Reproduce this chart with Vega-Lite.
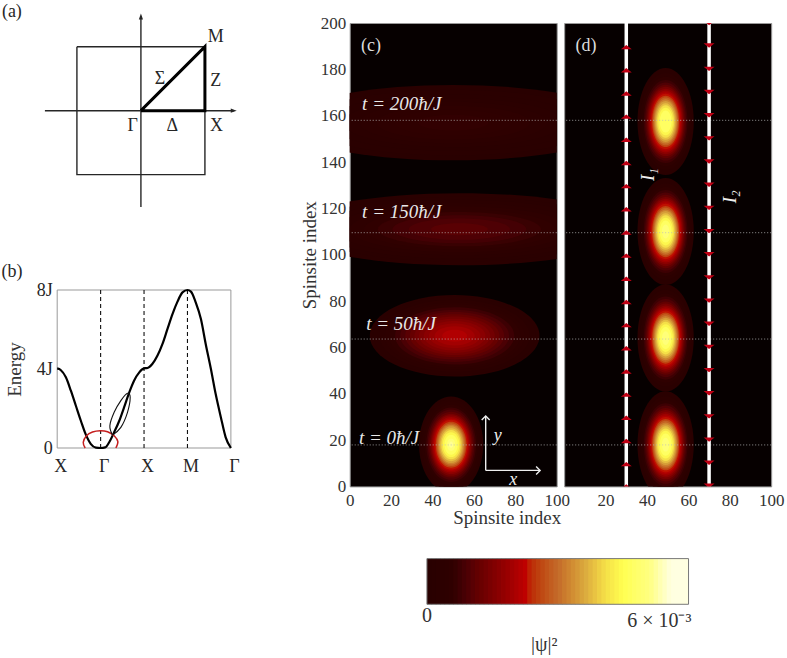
{"$schema":"https://vega.github.io/schema/vega-lite/v6.json","background":"white","padding":{"left":1.2,"top":3,"right":0,"bottom":0},
"config":{"font":"Liberation Serif","view":{"stroke":null},"text":{"font":"Liberation Serif"},"axis":{"labelFont":"Liberation Serif","titleFont":"Liberation Serif","labelColor":"#333","titleColor":"#333","labelFontSize":17,"titleFontSize":19,"titleFontWeight":"normal","tickSize":0,"domain":false,"grid":false,"labelFlush":false,"labelOverlap":false}},
"datasets":{
"blobs":[
{"p":"c","x":50.7,"y":65,"v":0.15,"r":41,"s":"B"},{"p":"c","x":50.7,"y":65,"v":0.22,"r":39.2,"s":"B"},{"p":"c","x":50.7,"y":65,"v":0.33,"r":36.3,"s":"B"},{"p":"c","x":50.7,"y":65,"v":0.45,"r":33.8,"s":"B"},{"p":"c","x":50.7,"y":65,"v":0.57,"r":31.7,"s":"B"},{"p":"c","x":50.7,"y":65,"v":0.75,"r":28.8,"s":"B"},{"p":"c","x":50.7,"y":65,"v":0.9,"r":26.3,"s":"B"},{"p":"c","x":50.7,"y":65,"v":1.05,"r":23.9,"s":"B"},{"p":"c","x":50.7,"y":65,"v":1.2,"r":21.6,"s":"B"},{"p":"c","x":50.7,"y":65,"v":1.35,"r":19.4,"s":"B"},{"p":"c","x":50.7,"y":65,"v":1.5,"r":17.2,"s":"B"},{"p":"c","x":50.7,"y":65,"v":1.65,"r":14.9,"s":"B"},{"p":"c","x":50.7,"y":65,"v":1.8,"r":12.4,"s":"B"},{"p":"c","x":50.7,"y":65,"v":1.95,"r":9.7,"s":"B"},{"p":"c","x":50.7,"y":65,"v":2.1,"r":6,"s":"B"},
{"p":"c","x":53,"y":111,"v":0.14,"r":83,"s":"C"},{"p":"c","x":53,"y":111,"v":0.2,"r":74.4,"s":"C"},{"p":"c","x":53,"y":111,"v":0.28,"r":68,"s":"C"},{"p":"c","x":53,"y":111,"v":0.38,"r":60.1,"s":"C"},{"p":"c","x":53,"y":111,"v":0.48,"r":53,"s":"C"},{"p":"c","x":53,"y":111,"v":0.58,"r":46.1,"s":"C"},{"p":"c","x":53,"y":111,"v":0.7,"r":39.4,"s":"C"},{"p":"c","x":53,"y":111,"v":0.82,"r":32.3,"s":"C"},{"p":"c","x":53,"y":111,"v":0.93,"r":24.4,"s":"C"},{"p":"c","x":53,"y":111,"v":1.05,"r":13.7,"s":"C"},
{"p":"c","x":50,"y":157,"v":0.1,"r":82,"s":"D"},{"p":"c","x":50,"y":157,"v":0.16,"r":71.5,"s":"D"},{"p":"c","x":50,"y":157,"v":0.22,"r":61.8,"s":"D"},{"p":"c","x":50,"y":157,"v":0.3,"r":53.3,"s":"D"},{"p":"c","x":50,"y":157,"v":0.38,"r":45.2,"s":"D"},{"p":"c","x":50,"y":157,"v":0.46,"r":37,"s":"D"},{"p":"c","x":50,"y":157,"v":0.55,"r":28.2,"s":"D"},{"p":"c","x":50,"y":157,"v":0.63,"r":17,"s":"D"},
{"p":"c","x":49,"y":18,"v":0.2,"r":15.5,"s":"A"},{"p":"c","x":49,"y":18,"v":0.28,"r":14.7,"s":"A"},{"p":"c","x":49,"y":18,"v":0.35,"r":14,"s":"A"},{"p":"c","x":49,"y":18,"v":0.55,"r":12.9,"s":"A"},{"p":"c","x":49,"y":18,"v":0.75,"r":12,"s":"A"},{"p":"c","x":49,"y":18,"v":0.95,"r":11.3,"s":"A"},{"p":"c","x":49,"y":18,"v":1.15,"r":10.6,"s":"A"},{"p":"c","x":49,"y":18,"v":1.4,"r":10,"s":"A"},{"p":"c","x":49,"y":18,"v":1.65,"r":9.46,"s":"A"},{"p":"c","x":49,"y":18,"v":1.9,"r":8.94,"s":"A"},{"p":"c","x":49,"y":18,"v":2.1,"r":8.45,"s":"A"},{"p":"c","x":49,"y":18,"v":2.3,"r":8,"s":"A"},{"p":"c","x":49,"y":18,"v":2.6,"r":7.4,"s":"A"},{"p":"c","x":49,"y":18,"v":2.9,"r":6.9,"s":"A"},{"p":"c","x":49,"y":18,"v":3.2,"r":6.4,"s":"A"},{"p":"c","x":49,"y":18,"v":3.5,"r":5.9,"s":"A"},{"p":"c","x":49,"y":18,"v":3.8,"r":5.3,"s":"A"},{"p":"c","x":49,"y":18,"v":4.1,"r":4.7,"s":"A"},{"p":"c","x":49,"y":18,"v":4.4,"r":4,"s":"A"},{"p":"c","x":49,"y":18,"v":4.7,"r":3.2,"s":"A"},{"p":"c","x":49,"y":18,"v":5,"r":2,"s":"A"},{"p":"c","x":49,"y":18,"v":5.2,"r":1,"s":"A"},
{"p":"d","x":49,"y":18,"v":0.2,"r":13.6,"s":"E"},{"p":"d","x":49,"y":18,"v":0.35,"r":12.3,"s":"E"},{"p":"d","x":49,"y":18,"v":0.55,"r":11.35,"s":"E"},{"p":"d","x":49,"y":18,"v":0.75,"r":10.56,"s":"E"},{"p":"d","x":49,"y":18,"v":0.95,"r":9.94,"s":"E"},{"p":"d","x":49,"y":18,"v":1.15,"r":9.33,"s":"E"},{"p":"d","x":49,"y":18,"v":1.4,"r":8.8,"s":"E"},{"p":"d","x":49,"y":18,"v":1.65,"r":8.32,"s":"E"},{"p":"d","x":49,"y":18,"v":1.9,"r":7.87,"s":"E"},{"p":"d","x":49,"y":18,"v":2.1,"r":7.44,"s":"E"},{"p":"d","x":49,"y":18,"v":2.3,"r":7.04,"s":"E"},{"p":"d","x":49,"y":18,"v":2.6,"r":6.51,"s":"E"},{"p":"d","x":49,"y":18,"v":2.9,"r":6.07,"s":"E"},{"p":"d","x":49,"y":18,"v":3.2,"r":5.63,"s":"E"},{"p":"d","x":49,"y":18,"v":3.5,"r":5.19,"s":"E"},{"p":"d","x":49,"y":18,"v":3.8,"r":4.66,"s":"E"},{"p":"d","x":49,"y":18,"v":4.1,"r":4.14,"s":"E"},{"p":"d","x":49,"y":18,"v":4.4,"r":3.52,"s":"E"},{"p":"d","x":49,"y":18,"v":4.7,"r":2.82,"s":"E"},{"p":"d","x":49,"y":18,"v":5,"r":1.76,"s":"E"},
{"p":"d","x":49,"y":64,"v":0.2,"r":13.6,"s":"E"},{"p":"d","x":49,"y":64,"v":0.35,"r":12.3,"s":"E"},{"p":"d","x":49,"y":64,"v":0.55,"r":11.35,"s":"E"},{"p":"d","x":49,"y":64,"v":0.75,"r":10.56,"s":"E"},{"p":"d","x":49,"y":64,"v":0.95,"r":9.94,"s":"E"},{"p":"d","x":49,"y":64,"v":1.15,"r":9.33,"s":"E"},{"p":"d","x":49,"y":64,"v":1.4,"r":8.8,"s":"E"},{"p":"d","x":49,"y":64,"v":1.65,"r":8.32,"s":"E"},{"p":"d","x":49,"y":64,"v":1.9,"r":7.87,"s":"E"},{"p":"d","x":49,"y":64,"v":2.1,"r":7.44,"s":"E"},{"p":"d","x":49,"y":64,"v":2.3,"r":7.04,"s":"E"},{"p":"d","x":49,"y":64,"v":2.6,"r":6.51,"s":"E"},{"p":"d","x":49,"y":64,"v":2.9,"r":6.07,"s":"E"},{"p":"d","x":49,"y":64,"v":3.2,"r":5.63,"s":"E"},{"p":"d","x":49,"y":64,"v":3.5,"r":5.19,"s":"E"},{"p":"d","x":49,"y":64,"v":3.8,"r":4.66,"s":"E"},{"p":"d","x":49,"y":64,"v":4.1,"r":4.14,"s":"E"},{"p":"d","x":49,"y":64,"v":4.4,"r":3.52,"s":"E"},{"p":"d","x":49,"y":64,"v":4.7,"r":2.82,"s":"E"},{"p":"d","x":49,"y":64,"v":5,"r":1.76,"s":"E"},
{"p":"d","x":49,"y":110,"v":0.2,"r":13.6,"s":"E"},{"p":"d","x":49,"y":110,"v":0.35,"r":12.3,"s":"E"},{"p":"d","x":49,"y":110,"v":0.55,"r":11.35,"s":"E"},{"p":"d","x":49,"y":110,"v":0.75,"r":10.56,"s":"E"},{"p":"d","x":49,"y":110,"v":0.95,"r":9.94,"s":"E"},{"p":"d","x":49,"y":110,"v":1.15,"r":9.33,"s":"E"},{"p":"d","x":49,"y":110,"v":1.4,"r":8.8,"s":"E"},{"p":"d","x":49,"y":110,"v":1.65,"r":8.32,"s":"E"},{"p":"d","x":49,"y":110,"v":1.9,"r":7.87,"s":"E"},{"p":"d","x":49,"y":110,"v":2.1,"r":7.44,"s":"E"},{"p":"d","x":49,"y":110,"v":2.3,"r":7.04,"s":"E"},{"p":"d","x":49,"y":110,"v":2.6,"r":6.51,"s":"E"},{"p":"d","x":49,"y":110,"v":2.9,"r":6.07,"s":"E"},{"p":"d","x":49,"y":110,"v":3.2,"r":5.63,"s":"E"},{"p":"d","x":49,"y":110,"v":3.5,"r":5.19,"s":"E"},{"p":"d","x":49,"y":110,"v":3.8,"r":4.66,"s":"E"},{"p":"d","x":49,"y":110,"v":4.1,"r":4.14,"s":"E"},{"p":"d","x":49,"y":110,"v":4.4,"r":3.52,"s":"E"},{"p":"d","x":49,"y":110,"v":4.7,"r":2.82,"s":"E"},{"p":"d","x":49,"y":110,"v":5,"r":1.76,"s":"E"},
{"p":"d","x":49,"y":157.5,"v":0.2,"r":13.6,"s":"E"},{"p":"d","x":49,"y":157.5,"v":0.35,"r":12.3,"s":"E"},{"p":"d","x":49,"y":157.5,"v":0.55,"r":11.35,"s":"E"},{"p":"d","x":49,"y":157.5,"v":0.75,"r":10.56,"s":"E"},{"p":"d","x":49,"y":157.5,"v":0.95,"r":9.94,"s":"E"},{"p":"d","x":49,"y":157.5,"v":1.15,"r":9.33,"s":"E"},{"p":"d","x":49,"y":157.5,"v":1.4,"r":8.8,"s":"E"},{"p":"d","x":49,"y":157.5,"v":1.65,"r":8.32,"s":"E"},{"p":"d","x":49,"y":157.5,"v":1.9,"r":7.87,"s":"E"},{"p":"d","x":49,"y":157.5,"v":2.1,"r":7.44,"s":"E"},{"p":"d","x":49,"y":157.5,"v":2.3,"r":7.04,"s":"E"},{"p":"d","x":49,"y":157.5,"v":2.6,"r":6.51,"s":"E"},{"p":"d","x":49,"y":157.5,"v":2.9,"r":6.07,"s":"E"},{"p":"d","x":49,"y":157.5,"v":3.2,"r":5.63,"s":"E"},{"p":"d","x":49,"y":157.5,"v":3.5,"r":5.19,"s":"E"},{"p":"d","x":49,"y":157.5,"v":3.8,"r":4.66,"s":"E"},{"p":"d","x":49,"y":157.5,"v":4.1,"r":4.14,"s":"E"},{"p":"d","x":49,"y":157.5,"v":4.4,"r":3.52,"s":"E"},{"p":"d","x":49,"y":157.5,"v":4.7,"r":2.82,"s":"E"}
],
"times":[{"y":17.9},{"y":63.6},{"y":109.5},{"y":158}],
"up":[{"x":30,"y":0},{"x":30,"y":9.6},{"x":30,"y":19.6},{"x":30,"y":29.6},{"x":30,"y":39.6},{"x":30,"y":49.6},{"x":30,"y":59.6},{"x":30,"y":69.6},{"x":30,"y":79.6},{"x":30,"y":89.6},{"x":30,"y":99.6},{"x":30,"y":109.6},{"x":30,"y":119.6},{"x":30,"y":129.6},{"x":30,"y":139.6},{"x":30,"y":149.6},{"x":30,"y":159.6},{"x":30,"y":169.6},{"x":30,"y":179.6},{"x":30,"y":189.6}],
"down":[{"x":70,"y":0.3},{"x":70,"y":10.2},{"x":70,"y":20.2},{"x":70,"y":30.2},{"x":70,"y":40.2},{"x":70,"y":50.2},{"x":70,"y":60.2},{"x":70,"y":70.2},{"x":70,"y":80.2},{"x":70,"y":90.2},{"x":70,"y":100.2},{"x":70,"y":110.2},{"x":70,"y":120.2},{"x":70,"y":130.2},{"x":70,"y":140.2},{"x":70,"y":150.2},{"x":70,"y":160.2},{"x":70,"y":170.2},{"x":70,"y":180.2},{"x":70,"y":190.3},{"x":70,"y":200}],
"cellbar":[{"v":0.05,"a":0,"e":0.12},{"v":0.15,"a":0.1,"e":0.22},{"v":0.25,"a":0.2,"e":0.32},{"v":0.35,"a":0.3,"e":0.42},{"v":0.45,"a":0.4,"e":0.52},{"v":0.55,"a":0.5,"e":0.62},{"v":0.65,"a":0.6,"e":0.72},{"v":0.75,"a":0.7,"e":0.82},{"v":0.85,"a":0.8,"e":0.92},{"v":0.95,"a":0.9,"e":1.02},{"v":1.05,"a":1,"e":1.12},{"v":1.15,"a":1.1,"e":1.22},{"v":1.25,"a":1.2,"e":1.32},{"v":1.35,"a":1.3,"e":1.42},{"v":1.45,"a":1.4,"e":1.52},{"v":1.55,"a":1.5,"e":1.62},{"v":1.65,"a":1.6,"e":1.72},{"v":1.75,"a":1.7,"e":1.82},{"v":1.85,"a":1.8,"e":1.92},{"v":1.95,"a":1.9,"e":2.02},{"v":2.05,"a":2,"e":2.12},{"v":2.15,"a":2.1,"e":2.22},{"v":2.25,"a":2.2,"e":2.32},{"v":2.35,"a":2.3,"e":2.42},{"v":2.45,"a":2.4,"e":2.52},{"v":2.55,"a":2.5,"e":2.62},{"v":2.65,"a":2.6,"e":2.72},{"v":2.75,"a":2.7,"e":2.82},{"v":2.85,"a":2.8,"e":2.92},{"v":2.95,"a":2.9,"e":3.02},{"v":3.05,"a":3,"e":3.12},{"v":3.15,"a":3.1,"e":3.22},{"v":3.25,"a":3.2,"e":3.32},{"v":3.35,"a":3.3,"e":3.42},{"v":3.45,"a":3.4,"e":3.52},{"v":3.55,"a":3.5,"e":3.62},{"v":3.65,"a":3.6,"e":3.72},{"v":3.75,"a":3.7,"e":3.82},{"v":3.85,"a":3.8,"e":3.92},{"v":3.95,"a":3.9,"e":4.02},{"v":4.05,"a":4,"e":4.12},{"v":4.15,"a":4.1,"e":4.22},{"v":4.25,"a":4.2,"e":4.32},{"v":4.35,"a":4.3,"e":4.42},{"v":4.45,"a":4.4,"e":4.52},{"v":4.55,"a":4.5,"e":4.62},{"v":4.65,"a":4.6,"e":4.72},{"v":4.75,"a":4.7,"e":4.82},{"v":4.85,"a":4.8,"e":4.92},{"v":4.95,"a":4.9,"e":5.02},{"v":5.05,"a":5,"e":5.12},{"v":5.15,"a":5.1,"e":5.22},{"v":5.25,"a":5.2,"e":5.32},{"v":5.35,"a":5.3,"e":5.42},{"v":5.45,"a":5.4,"e":5.52},{"v":5.55,"a":5.5,"e":5.62},{"v":5.65,"a":5.6,"e":5.72},{"v":5.75,"a":5.7,"e":5.82},{"v":5.85,"a":5.8,"e":5.92},{"v":5.95,"a":5.9,"e":6}]
},
"columns":3,"align":"none","bounds":"flush","spacing":{"row":71.6,"column":7.5},
"concat":[
{"width":284.5,"height":463.4,
"resolve":{"scale":{"x":"independent","y":"independent"},"axis":{"x":"independent","y":"independent"}},
"layer":[
{"layer":[
{"data":{"values":[{"g":"top","x":-1,"y":1,"o":0},{"g":"top","x":1,"y":1,"o":1},{"g":"top","x":1,"y":-1,"o":2},{"g":"top","x":-1,"y":-1,"o":3},{"g":"top","x":-1,"y":1,"o":4},{"g":"h","x":-1.5,"y":0,"o":0},{"g":"h","x":1.45,"y":0,"o":1},{"g":"v","x":0,"y":-1.505,"o":0},{"g":"v","x":0,"y":1.47,"o":1}]},
"mark":{"type":"line","color":"#262626","strokeWidth":1.4,"clip":false},
"encoding":{"x":{"field":"x","type":"quantitative","axis":null,"scale":{"domain":[-1.308,3.137],"nice":false,"zero":false}},"y":{"field":"y","type":"quantitative","axis":null,"scale":{"domain":[-5.871,1.37],"nice":false,"zero":false}},"detail":{"field":"g"},"order":{"field":"o"}}},
{"data":{"values":[{"x":0,"y":0,"o":0},{"x":1,"y":1,"o":1},{"x":1,"y":0,"o":2},{"x":0,"y":0,"o":3}]},
"mark":{"type":"line","color":"#000","strokeWidth":3,"strokeJoin":"miter"},
"encoding":{"x":{"field":"x","type":"quantitative"},"y":{"field":"y","type":"quantitative"},"order":{"field":"o"}}},
{"data":{"values":[{"x":0,"y":1.47}]},"mark":{"type":"point","filled":true,"opacity":1,"color":"#262626","size":36,"shape":"M-0.7,1L0,-1L0.7,1Z"},"encoding":{"x":{"field":"x","type":"quantitative"},"y":{"field":"y","type":"quantitative"}}},
{"data":{"values":[{"x":1.45,"y":0}]},"mark":{"type":"point","filled":true,"opacity":1,"color":"#262626","size":36,"shape":"M-1,-0.7L1,0L-1,0.7Z"},"encoding":{"x":{"field":"x","type":"quantitative"},"y":{"field":"y","type":"quantitative"}}},
{"data":{"values":[{"x":1.17,"y":1.155,"t":"M"},{"x":0.297,"y":0.495,"t":"Σ"},{"x":1.17,"y":0.47,"t":"Z"},{"x":-0.13,"y":-0.24,"t":"Γ"},{"x":0.49,"y":-0.24,"t":"Δ"},{"x":1.18,"y":-0.24,"t":"X"},{"x":-2.016,"y":1.54,"t":"(a)"}]},
"mark":{"type":"text","fontSize":18,"color":"#262626","clip":false},
"encoding":{"x":{"field":"x","type":"quantitative"},"y":{"field":"y","type":"quantitative"},"text":{"field":"t"}}}
]},
{"layer":[
{"data":{"values":[{"x":0,"x2":4,"e":0,"e2":8}]},"mark":{"type":"rect","fill":null,"stroke":"#999","strokeWidth":1},
"encoding":{"x":{"field":"x","type":"quantitative","scale":{"domain":[0,6.552],"nice":false},"axis":{"orient":"bottom","offset":-38.4,"values":[0,1,2,3,4],"labelExpr":"['X','Γ','X','M','Γ'][datum.value]","title":null,"labelFontSize":18,"labelOffset":3,"labelPadding":10,"labelColor":"#262626"}},"x2":{"field":"x2"},
"y":{"field":"e","type":"quantitative","scale":{"domain":[-1.944,21.52],"nice":false,"zero":false},"axis":{"orient":"left","values":[0,4,8],"labelExpr":"datum.value==0?'0':datum.value+'J'","title":"Energy","titleX":-33,"titleY":346,"labelFontSize":18,"labelPadding":5,"titleFontSize":19,"labelColor":"#262626"}},"y2":{"field":"e2"}}},
{"data":{"values":[{"x":1,"e":0,"e2":8},{"x":2,"e":0,"e2":8},{"x":3,"e":0,"e2":8}]},"mark":{"type":"rule","color":"#111","strokeWidth":1.1,"strokeDash":[4,3]},
"encoding":{"x":{"field":"x","type":"quantitative"},"y":{"field":"e","type":"quantitative"},"y2":{"field":"e2"}}},
{"data":{"values":[{"x":0,"e":4.03},{"x":0.08,"e":3.95},{"x":0.2,"e":3.58},{"x":0.315,"e":2.9},{"x":0.43,"e":2.14},{"x":0.545,"e":1.38},{"x":0.66,"e":0.675},{"x":0.776,"e":0.2},{"x":0.89,"e":0.02},{"x":1,"e":0},{"x":1.105,"e":0.03},{"x":1.197,"e":0.29},{"x":1.31,"e":0.79},{"x":1.43,"e":1.38},{"x":1.54,"e":2.06},{"x":1.66,"e":2.82},{"x":1.77,"e":3.41},{"x":1.89,"e":3.83},{"x":2,"e":4.03},{"x":2.08,"e":4.05},{"x":2.19,"e":4.25},{"x":2.31,"e":4.68},{"x":2.425,"e":5.27},{"x":2.54,"e":6.03},{"x":2.655,"e":6.78},{"x":2.77,"e":7.41},{"x":2.885,"e":7.88},{"x":3,"e":8},{"x":3.08,"e":7.92},{"x":3.19,"e":7.38},{"x":3.31,"e":6.53},{"x":3.42,"e":5.27},{"x":3.54,"e":4},{"x":3.65,"e":2.73},{"x":3.77,"e":1.55},{"x":3.88,"e":0.54},{"x":4,"e":0}]},
"mark":{"type":"line","color":"#000","strokeWidth":2.2,"interpolate":"monotone"},
"encoding":{"x":{"field":"x","type":"quantitative"},"y":{"field":"e","type":"quantitative"}}},
{"data":{"values":[{"x":0.645,"e":0,"o":0},{"x":0.6,"e":0.287,"o":1},{"x":0.675,"e":0.624,"o":2},{"x":0.813,"e":0.81,"o":3},{"x":0.99,"e":0.878,"o":4},{"x":1.159,"e":0.827,"o":5},{"x":1.312,"e":0.624,"o":6},{"x":1.397,"e":0.32,"o":7},{"x":1.351,"e":0,"o":8}]},
"mark":{"type":"line","color":"#c41e1e","strokeWidth":1.5,"interpolate":"cardinal"},
"encoding":{"x":{"field":"x","type":"quantitative"},"y":{"field":"e","type":"quantitative"},"order":{"field":"o"}}},
{"data":{"values":[{"x":1.274,"e":0.658,"o":0},{"x":1.213,"e":1.13,"o":1},{"x":1.312,"e":1.806,"o":2},{"x":1.466,"e":2.397,"o":3},{"x":1.619,"e":2.768,"o":4},{"x":1.681,"e":2.565,"o":5},{"x":1.619,"e":1.806,"o":6},{"x":1.466,"e":1.046,"o":7},{"x":1.274,"e":0.658,"o":8}]},
"mark":{"type":"line","color":"#111","strokeWidth":1.1,"interpolate":"cardinal"},
"encoding":{"x":{"field":"x","type":"quantitative"},"y":{"field":"e","type":"quantitative"},"order":{"field":"o"}}},
{"data":{"values":[{"x":-1.04,"e":8.9,"t":"(b)"}]},"mark":{"type":"text","fontSize":18,"color":"#262626","clip":false},
"encoding":{"x":{"field":"x","type":"quantitative"},"y":{"field":"e","type":"quantitative"},"text":{"field":"t"}}}
]}
]},
{"width":207,"height":463.4,"view":{"stroke":"#999","fill":"#060000"},
"layer":[
{"data":{"name":"blobs"},"transform":[{"filter":"datum.p=='c'"}],
"mark":{"type":"point","filled":true,"opacity":1,"strokeWidth":0,"clip":true},
"encoding":{"x":{"field":"x","type":"quantitative","scale":{"domain":[0,100],"nice":false},"axis":{"values":[0,20,40,60,80,100],"title":"Spinsite index","titleX":157,"titlePadding":0,"labelPadding":6}},
"y":{"field":"y","type":"quantitative","scale":{"domain":[0,200],"nice":false},"axis":{"values":[0,20,40,60,80,100,120,140,160,180,200],"title":"Spinsite index","titlePadding":1,"labelPadding":4}},
"size":{"field":"r","type":"quantitative","legend":null,"scale":{"type":"pow","exponent":2,"domain":[0,100],"range":[0,171396]}},
"shape":{"field":"s","type":"nominal","legend":null,"scale":{"domain":["A","B","C","D","E"],"range":["M-1,0A1,1.5,0,1,0,1,0A1,1.5,0,1,0,-1,0Z","M-1,0A1,0.48,0,1,0,1,0A1,0.48,0,1,0,-1,0Z","M-1,0A1,0.21,0,1,0,1,0A1,0.21,0,1,0,-1,0Z","M-1,0A1,0.222,0,1,0,1,0A1,0.222,0,1,0,-1,0Z","M-1,0A1,1.9,0,1,0,1,0A1,1.9,0,1,0,-1,0Z"]}},
"color":{"field":"v","type":"quantitative","legend":null,"scale":{"domain":[0,0.6,1.2,1.8,2.27,2.4,3,3.6,4.1,4.5,5.1,5.6,6],"range":["#000000","#300000","#660000","#960000","#c00000","#bc2c08","#c46a2a","#d9a83e","#f5e048","#ffff50","#ffff80","#ffffe0","#ffffff"]}},
"order":{"field":"v"}}},
{"data":{"name":"times"},"mark":{"type":"rule","color":"#bbb","strokeWidth":0.8,"strokeDash":[1,2]},"encoding":{"y":{"field":"y","type":"quantitative"}}},
{"data":{"values":[{"x":6,"y":165,"t":"t = 200ħ/J"},{"x":6,"y":118.5,"t":"t = 150ħ/J"},{"x":8,"y":70,"t":"t = 50ħ/J"},{"x":4.5,"y":21,"t":"t = 0ħ/J"}]},"mark":{"type":"text","align":"left","fontSize":19,"fontStyle":"italic","color":"#e8e8e8"},"encoding":{"x":{"field":"x","type":"quantitative"},"y":{"field":"y","type":"quantitative"},"text":{"field":"t"}}},
{"data":{"values":[{"x":5.5,"y":190,"t":"(c)"}]},"mark":{"type":"text","align":"left","fontSize":18,"color":"#ddd"},"encoding":{"x":{"field":"x","type":"quantitative"},"y":{"field":"y","type":"quantitative"},"text":{"field":"t"}}},
{"data":{"values":[{"g":"a","x":65.7,"y":6.9,"o":0},{"g":"a","x":65.7,"y":30.4,"o":1},{"g":"b","x":65.7,"y":6.9,"o":0},{"g":"b","x":92,"y":6.9,"o":1}]},"mark":{"type":"line","color":"#eee","strokeWidth":1.4},"encoding":{"x":{"field":"x","type":"quantitative"},"y":{"field":"y","type":"quantitative"},"detail":{"field":"g"},"order":{"field":"o"}}},
{"data":{"values":[{"x":65.7,"y":30.4}]},"mark":{"type":"point","filled":false,"opacity":1,"color":"#eee","strokeWidth":1.4,"size":64,"shape":"M-1,1L0,0L1,1"},"encoding":{"x":{"field":"x","type":"quantitative"},"y":{"field":"y","type":"quantitative"}}},
{"data":{"values":[{"x":92,"y":6.9}]},"mark":{"type":"point","filled":false,"opacity":1,"color":"#eee","strokeWidth":1.4,"size":64,"shape":"M-1,-1L0,0L-1,1"},"encoding":{"x":{"field":"x","type":"quantitative"},"y":{"field":"y","type":"quantitative"}}},
{"data":{"values":[{"x":79,"y":2.6,"t":"x"},{"x":71.5,"y":21.9,"t":"y"}]},"mark":{"type":"text","fontSize":18,"fontStyle":"italic","color":"#eee"},"encoding":{"x":{"field":"x","type":"quantitative"},"y":{"field":"y","type":"quantitative"},"text":{"field":"t"}}}
]},
{"width":207,"height":463.4,"view":{"stroke":"#999","fill":"#060000"},
"layer":[
{"data":{"name":"blobs"},"transform":[{"filter":"datum.p=='d'"}],
"mark":{"type":"point","filled":true,"opacity":1,"strokeWidth":0,"clip":true},
"encoding":{"x":{"field":"x","type":"quantitative","scale":{"domain":[0,100],"nice":false},"axis":{"values":[20,40,60,80,100],"title":null,"labelPadding":6}},
"y":{"field":"y","type":"quantitative","scale":{"domain":[0,200],"nice":false},"axis":null},
"size":{"field":"r","type":"quantitative","legend":null,"scale":{"type":"pow","exponent":2,"domain":[0,100],"range":[0,171396]}},
"shape":{"field":"s","type":"nominal","legend":null,"scale":{"domain":["A","B","C","D","E"],"range":["M-1,0A1,1.5,0,1,0,1,0A1,1.5,0,1,0,-1,0Z","M-1,0A1,0.48,0,1,0,1,0A1,0.48,0,1,0,-1,0Z","M-1,0A1,0.21,0,1,0,1,0A1,0.21,0,1,0,-1,0Z","M-1,0A1,0.222,0,1,0,1,0A1,0.222,0,1,0,-1,0Z","M-1,0A1,1.9,0,1,0,1,0A1,1.9,0,1,0,-1,0Z"]}},
"color":{"field":"v","type":"quantitative","legend":null,"scale":{"domain":[0,0.6,1.2,1.8,2.27,2.4,3,3.6,4.1,4.5,5.1,5.6,6],"range":["#000000","#300000","#660000","#960000","#c00000","#bc2c08","#c46a2a","#d9a83e","#f5e048","#ffff50","#ffff80","#ffffe0","#ffffff"]}},
"order":{"field":"v"}}},
{"data":{"name":"times"},"mark":{"type":"rule","color":"#bbb","strokeWidth":0.8,"strokeDash":[1,2]},"encoding":{"y":{"field":"y","type":"quantitative"}}},
{"data":{"values":[{"x":30},{"x":70}]},"mark":{"type":"rule","color":"#fff","strokeWidth":3.5},"encoding":{"x":{"field":"x","type":"quantitative"}}},
{"data":{"name":"up"},"mark":{"type":"point","filled":true,"opacity":1,"color":"#c00014","size":120,"shape":"M-1,0.4L1,0.4L0,-0.4Z","clip":true},"encoding":{"x":{"field":"x","type":"quantitative"},"y":{"field":"y","type":"quantitative"}}},
{"data":{"name":"down"},"mark":{"type":"point","filled":true,"opacity":1,"color":"#c00014","size":120,"shape":"M-1,-0.4L1,-0.4L0,0.4Z","clip":true},"encoding":{"x":{"field":"x","type":"quantitative"},"y":{"field":"y","type":"quantitative"}}},
{"data":{"values":[{"x":5.5,"y":190,"t":"(d)"}]},"mark":{"type":"text","align":"left","fontSize":18,"color":"#ddd"},"encoding":{"x":{"field":"x","type":"quantitative"},"y":{"field":"y","type":"quantitative"},"text":{"field":"t"}}},
{"data":{"values":[{"x":40.3,"y":134.6,"t":"I₁"},{"x":80,"y":125,"t":"I₂"}]},"mark":{"type":"text","angle":270,"fontSize":19,"fontStyle":"italic","color":"#eee"},"encoding":{"x":{"field":"x","type":"quantitative"},"y":{"field":"y","type":"quantitative"},"text":{"field":"t"}}}
]},
{"width":284.5,"height":45.7,
"layer":[
{"data":{"name":"cellbar"},"mark":{"type":"rect"},
"encoding":{"x":{"field":"a","type":"quantitative","axis":null,"scale":{"domain":[-8.48,-1.955],"nice":false,"zero":false}},"x2":{"field":"e"},
"color":{"field":"v","type":"quantitative","legend":null,"scale":{"domain":[0,0.6,1.2,1.8,2.27,2.4,3,3.6,4.1,4.5,5.1,5.6,6],"range":["#000000","#300000","#660000","#960000","#c00000","#bc2c08","#c46a2a","#d9a83e","#f5e048","#ffff50","#ffff80","#ffffe0","#ffffff"]}}}},
{"data":{"values":[{"a":0,"e":6}]},"mark":{"type":"rect","fill":null,"stroke":"#777","strokeWidth":1},"encoding":{"x":{"field":"a","type":"quantitative"},"x2":{"field":"e"}}},
{"data":{"values":[{"x":0,"y":-0.256,"t":"0"},{"x":5.33,"y":-0.36,"t":"6 × 10⁻³"},{"x":2.69,"y":-0.88,"t":"|ψ|²"}]},"mark":{"type":"text","fontSize":20,"color":"#333","clip":false},
"encoding":{"x":{"field":"x","type":"quantitative"},"y":{"field":"y","type":"quantitative","axis":null,"scale":{"domain":[0,1],"nice":false}},"text":{"field":"t"}}}
]}
]}
